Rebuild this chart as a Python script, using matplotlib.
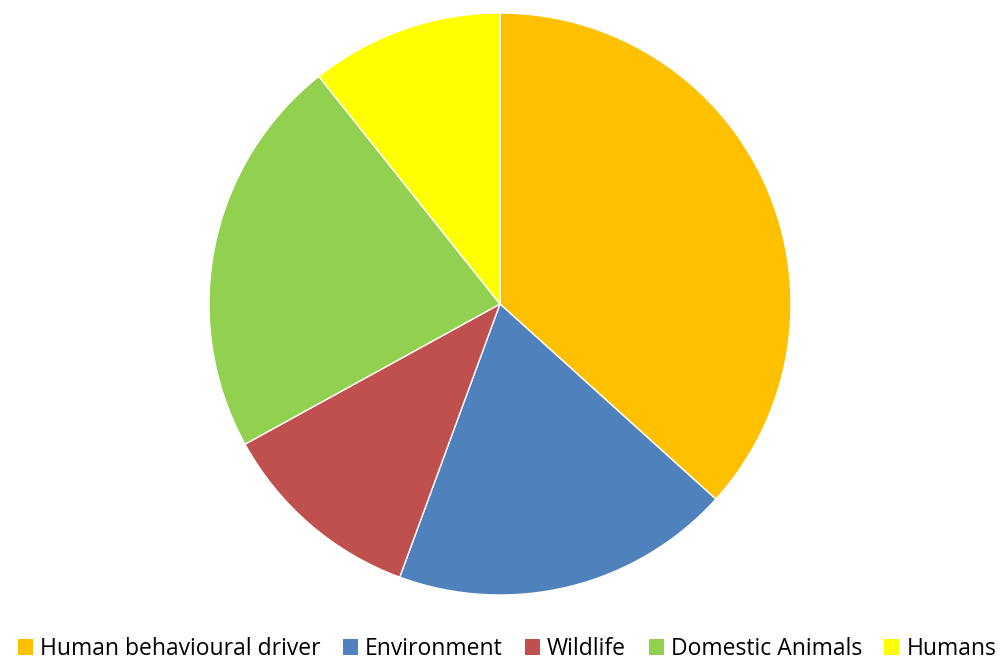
import matplotlib.pyplot as plt
from matplotlib.patches import Patch

labels = ['Human behavioural driver', 'Environment', 'Wildlife', 'Domestic Animals', 'Humans']
values = [36.7, 18.9, 11.4, 22.3, 10.7]
colors = ['#FFC000', '#4F81BD', '#C0504D', '#92D050', '#FFFF00']

fig = plt.figure(figsize=(10.04, 6.62), dpi=100)
ax = fig.add_axes([209 / 1004, 67 / 662, 582 / 1004, 582 / 662])

ax.pie(values, colors=colors, startangle=90, counterclock=False, radius=1,
       wedgeprops=dict(edgecolor='white', linewidth=1))
ax.set_xlim(-1, 1)
ax.set_ylim(-1, 1)
ax.set_aspect('equal')
ax.axis('off')

# legend row along the bottom
handles = [Patch(facecolor=c, edgecolor='none') for c in colors]
fig.legend(handles, labels, loc='center', bbox_to_anchor=(0.505, 13 / 662), ncol=5,
           frameon=False, prop={'family': 'Open Sans', 'size': 16.5},
           handlelength=0.66, handleheight=0.66, handletextpad=0.3,
           columnspacing=0.98, borderaxespad=0)

fig.savefig('out.png', dpi=100)
